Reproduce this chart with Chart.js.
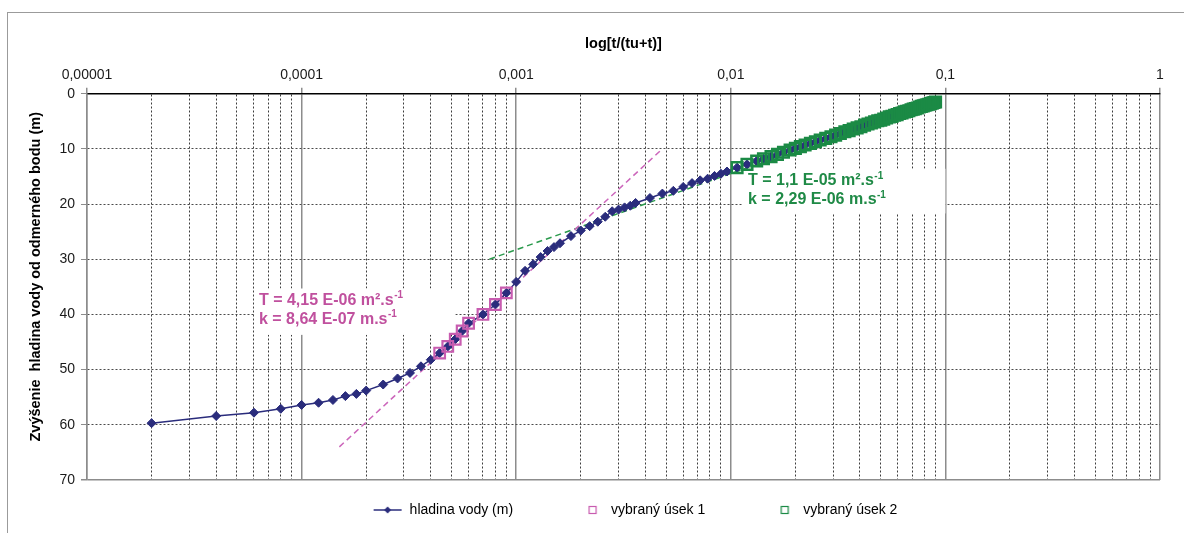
<!DOCTYPE html>
<html lang="sk">
<head>
<meta charset="utf-8">
<title>hladina vody</title>
<script src="https://cdn.jsdelivr.net/npm/chart.js@4/dist/chart.umd.min.js"></script>
<style>
  html, body { margin: 0; padding: 0; background: #fff; }
  #wrap { position: relative; width: 1184px; height: 533px; overflow: hidden; }
  #chart { position: absolute; left: 0; top: 0; }
  #frame { position: absolute; left: 7px; top: 12px; width: 1400px; height: 800px;
           border-top: 1px solid #9b9b9b; border-left: 1px solid #9b9b9b; pointer-events: none; }
</style>
</head>
<body>
<div id="wrap">
  <canvas id="chart" width="1184" height="533"></canvas>
  <div id="frame"></div>
</div>
<script>
/******** data ********/
const X_TITLE = 'log[t/(tu+t)]';
const Y_TITLE = '     Zvýšenie  hladina vody od odmerného bodu (m)';
const X_DECADES = [0.00001, 0.0001, 0.001, 0.01, 0.1, 1];
const X_TICK_LABELS = ['0,00001', '0,0001', '0,001', '0,01', '0,1', '1'];

const SERIES_NAMES = ['hladina vody (m)', 'vybraný úsek 1', 'vybraný úsek 2'];

// hladina vody (m) - points left of section 2
const LEVEL_X = [0.00002, 0.00004, 0.00006, 0.00008, 0.0001, 0.00012, 0.00014, 0.00016, 0.00018, 0.0002,
                 0.00024, 0.00028, 0.00032, 0.00036, 0.0004, 0.00044, 0.00048, 0.00052, 0.00056, 0.0006,
                 0.0007, 0.0008, 0.0009, 0.001, 0.0011, 0.0012, 0.0013, 0.0014, 0.0015, 0.0016,
                 0.0018, 0.002, 0.0022, 0.0024, 0.0026, 0.0028, 0.003, 0.0032, 0.0034, 0.0036,
                 0.0042, 0.0048, 0.0054, 0.006, 0.0066, 0.0072, 0.0078, 0.0084, 0.009, 0.0096];
const LEVEL_Y = [59.7, 58.4, 57.8, 57.1, 56.4, 56.0, 55.5, 54.8, 54.4, 53.8,
                 52.7, 51.6, 50.6, 49.4, 48.2, 47.0, 45.8, 44.5, 43.0, 41.6,
                 40.0, 38.2, 36.1, 34.1, 32.1, 30.9, 29.6, 28.5, 27.8, 27.1,
                 25.8, 24.8, 24.0, 23.2, 22.3, 21.3, 21.0, 20.6, 20.3, 19.8,
                 18.9, 18.1, 17.6, 16.9, 16.2, 15.7, 15.4, 14.9, 14.5, 14.1];

// vybraný úsek 1
const SEG1_X = [0.00044, 0.00048, 0.00052, 0.00056, 0.0006, 0.0007, 0.0008, 0.0009];
const SEG1_Y = [47.0, 45.8, 44.5, 43.0, 41.6, 40.0, 38.2, 36.1];

// vybraný úsek 2 (these points also belong to hladina vody)
const SEG2_X = [0.0107, 0.0119, 0.0132, 0.0142, 0.0154, 0.0165, 0.0176, 0.0189, 0.0200, 0.0211,
                0.0222, 0.0235, 0.0248, 0.0261, 0.0277, 0.0293, 0.0308, 0.0324, 0.0340, 0.0356,
                0.0372, 0.0388, 0.0404, 0.0420, 0.0436, 0.0452, 0.0468, 0.0484, 0.0500, 0.0516,
                0.0532, 0.0548, 0.0564, 0.0580, 0.0596, 0.0612, 0.0628, 0.0644, 0.0660, 0.0676,
                0.0692, 0.0708, 0.0724, 0.0740, 0.0756, 0.0772, 0.0788, 0.0804, 0.0820, 0.0836,
                0.0852, 0.0868, 0.0884, 0.0900];
const SEG2_Y = [13.4, 12.8, 12.2, 11.8, 11.4, 11.0, 10.6, 10.2, 9.9, 9.6,
                9.3, 9.0, 8.7, 8.4, 8.1, 7.8, 7.5, 7.2, 6.9, 6.7,
                6.4, 6.2, 6.0, 5.7, 5.5, 5.3, 5.1, 4.9, 4.8, 4.6,
                4.4, 4.2, 4.1, 3.9, 3.8, 3.6, 3.5, 3.3, 3.2, 3.1,
                2.9, 2.8, 2.7, 2.6, 2.4, 2.3, 2.2, 2.1, 2.0, 1.9,
                1.8, 1.7, 1.6, 1.5];

// fitted lines (end points)
const TREND1_X = [0.00015, 0.0048];
const TREND1_Y = [64, 10];
const TREND2_X = [0.00075, 0.09];
const TREND2_Y = [30, 1.3];

// result labels, the unit exponent is drawn raised
const LABEL1_LINES = ['T = 4,15 E-06 m².s', 'k = 8,64 E-07 m.s'];
const LABEL2_LINES = ['T = 1,1 E-05 m².s', 'k = 2,29 E-06 m.s'];
const UNIT_EXP = '-1';

/******** colours ********/
const NAVY = '#2a2c7c';
const PINK = '#c85cb0';
const PINK_TEXT = '#c0509e';
const GREEN = '#1b8a45';
const GREEN_TEXT = '#1f8a46';
const FONT = '"Liberation Sans", Arial, sans-serif';

Chart.defaults.font.family = FONT;
Chart.defaults.color = '#1a1a1a';

const pts = (xs, ys) => xs.map((x, i) => ({ x, y: ys[i] }));

// every 1..9 x 10^n position gets a grid line, decades are the major ones
const xGrid = [];
X_DECADES.forEach((d, i) => {
  if (i === X_DECADES.length - 1) { xGrid.push({ value: d, major: true }); return; }
  for (let m = 1; m <= 9; m++) {
    xGrid.push({ value: m === 1 ? d : Number((m * d).toPrecision(4)), major: m === 1 });
  }
});

/******** legend icons ********/
function legendIcon(draw) {
  const c = document.createElement('canvas');
  c.width = 68; c.height = 14;
  draw(c.getContext('2d'));
  return c;
}
const ICONS = [
  legendIcon(g => {
    g.strokeStyle = NAVY; g.lineWidth = 1.5;
    g.beginPath(); g.moveTo(39, 7); g.lineTo(67, 7); g.stroke();
    g.fillStyle = NAVY;
    g.beginPath(); g.moveTo(53, 3.5); g.lineTo(56.5, 7); g.lineTo(53, 10.5); g.lineTo(49.5, 7); g.closePath(); g.fill();
  }),
  legendIcon(g => { g.strokeStyle = PINK; g.lineWidth = 1.2; g.strokeRect(53, 3.5, 7, 7); }),
  legendIcon(g => { g.strokeStyle = GREEN; g.lineWidth = 1.2; g.strokeRect(53, 3.5, 7, 7); })
];

/******** plugins ********/
// white text boxes with the computed parameters
const textBoxes = {
  id: 'textBoxes',
  beforeDatasetsDraw(chart, args, opts) {
    const { ctx, scales: { x, y } } = chart;
    opts.boxes.forEach(b => {
      const left = x.getPixelForValue(b.x0), right = x.getPixelForValue(b.x1);
      const top = y.getPixelForValue(b.y0), bottom = y.getPixelForValue(b.y1);
      ctx.save();
      ctx.fillStyle = '#fff';
      ctx.fillRect(left, top, right - left, bottom - top);
      ctx.fillStyle = b.color;
      ctx.textBaseline = 'middle';
      ctx.textAlign = 'left';
      b.lines.forEach((line, i) => {
        const ty = top + 12 + i * 19;
        ctx.font = 'bold 16px ' + FONT;
        ctx.fillText(line, left + 5, ty);
        const w = ctx.measureText(line).width;
        ctx.font = 'bold 10px ' + FONT;
        ctx.fillText(UNIT_EXP, left + 5 + w + 0.5, ty - 5);
      });
      ctx.restore();
    });
  }
};

// the legend in the original sits a bit right of the canvas centre
const legendShift = {
  id: 'legendShift',
  afterLayout(chart) {
    chart.legend.left += 36;
    chart.legend.right += 36;
  }
};

/******** chart ********/
new Chart(document.getElementById('chart'), {
  type: 'scatter',
  data: {
    datasets: [
      {
        label: SERIES_NAMES[0],
        data: pts(LEVEL_X.concat(SEG2_X), LEVEL_Y.concat(SEG2_Y)),
        showLine: true,
        borderColor: NAVY,
        borderWidth: 1.5,
        pointStyle: 'rectRot',
        pointRadius: 4.5,
        pointBackgroundColor: NAVY,
        pointBorderColor: NAVY,
        pointBorderWidth: 1,
        order: 3
      },
      {
        label: SERIES_NAMES[1],
        data: pts(SEG1_X, SEG1_Y),
        pointStyle: 'rect',
        pointRadius: 7.5,
        pointBackgroundColor: 'rgba(0,0,0,0)',
        pointBorderColor: PINK,
        pointBorderWidth: 2.2,
        order: 1
      },
      {
        label: SERIES_NAMES[2],
        data: pts(SEG2_X, SEG2_Y),
        pointStyle: 'rect',
        pointRadius: 7.5,
        pointBackgroundColor: 'rgba(0,0,0,0)',
        pointBorderColor: GREEN,
        pointBorderWidth: 2.5,
        order: 1
      },
      {
        label: 'trend 1',
        data: pts(TREND1_X, TREND1_Y),
        showLine: true,
        borderColor: '#cc66bb',
        borderWidth: 1.5,
        borderDash: [6, 4],
        pointRadius: 0,
        order: 4
      },
      {
        label: 'trend 2',
        data: pts(TREND2_X, TREND2_Y),
        showLine: true,
        borderColor: '#2a9a4c',
        borderWidth: 1.5,
        borderDash: [6, 4],
        pointRadius: 0,
        order: 4
      }
    ]
  },
  options: {
    responsive: false,
    animation: false,
    events: [],
    layout: { padding: { top: 35, right: 24, bottom: 6, left: 0 } },
    scales: {
      x: {
        type: 'logarithmic',
        position: 'top',
        min: 0.00001,
        max: 1,
        afterBuildTicks(scale) { scale.ticks = xGrid.map(t => ({ value: t.value, major: t.major })); },
        ticks: {
          autoSkip: false,
          maxRotation: 0,
          minRotation: 0,
          padding: 4,
          font: { size: 14 },
          callback(value) {
            const i = X_DECADES.indexOf(value);
            return i >= 0 ? X_TICK_LABELS[i] : '';
          }
        },
        grid: {
          color: c => (c.tick && c.tick.major ? '#8c8c8c' : '#3c3c3c'),
          lineWidth: c => (c.tick && c.tick.major ? 1.5 : 1),
          tickLength: 6,
          tickColor: c => (c.tick && c.tick.major ? '#8c8c8c' : 'rgba(0,0,0,0)'),
          tickBorderDash: []
        },
        border: {
          color: '#000',
          width: 1.5,
          dash: c => (c.tick && !c.tick.major ? [2, 2] : [])
        },
        title: {
          display: true,
          text: X_TITLE,
          color: '#000',
          font: { size: 14.5, weight: 'bold' },
          padding: { top: 0, bottom: 10.5 }
        }
      },
      y: {
        min: 0,
        max: 70,
        reverse: true,
        ticks: { stepSize: 10, padding: 6, font: { size: 14 } },
        grid: {
          color: c => (c.tick && c.tick.value === 70 ? '#8c8c8c' : '#4a4a4a'),
          lineWidth: c => (c.tick && c.tick.value === 70 ? 1.5 : 1),
          tickLength: 6,
          tickColor: '#8c8c8c',
          tickBorderDash: []
        },
        border: {
          color: '#8c8c8c',
          width: 1.5,
          dash: c => (c.tick && c.tick.value !== 70 && c.tick.value !== 0 ? [2, 2] : [])
        },
        title: {
          display: true,
          text: Y_TITLE,
          color: '#000',
          font: { size: 14.5, weight: 'bold' },
          padding: { top: 27.3, bottom: 8.7 }
        }
      }
    },
    plugins: {
      tooltip: { enabled: false },
      legend: {
        position: 'bottom',
        labels: {
          usePointStyle: true,
          pointStyleWidth: 68,
          padding: 23,
          font: { size: 14 },
          color: '#1a1a1a',
          generateLabels: chart => ICONS.map((img, i) => ({
            text: chart.data.datasets[i].label,
            pointStyle: img,
            datasetIndex: i,
            hidden: false,
            lineWidth: 0,
            fillStyle: 'rgba(0,0,0,0)',
            strokeStyle: 'rgba(0,0,0,0)'
          }))
        }
      },
      textBoxes: {
        boxes: [
          { x0: 0.00006, x1: 0.00052, y0: 35.3, y1: 43.7, color: PINK_TEXT, lines: LABEL1_LINES },
          { x0: 0.0114, x1: 0.1, y0: 13.6, y1: 21.7, color: GREEN_TEXT, lines: LABEL2_LINES }
        ]
      }
    }
  },
  plugins: [textBoxes, legendShift]
});
</script>
</body>
</html>
